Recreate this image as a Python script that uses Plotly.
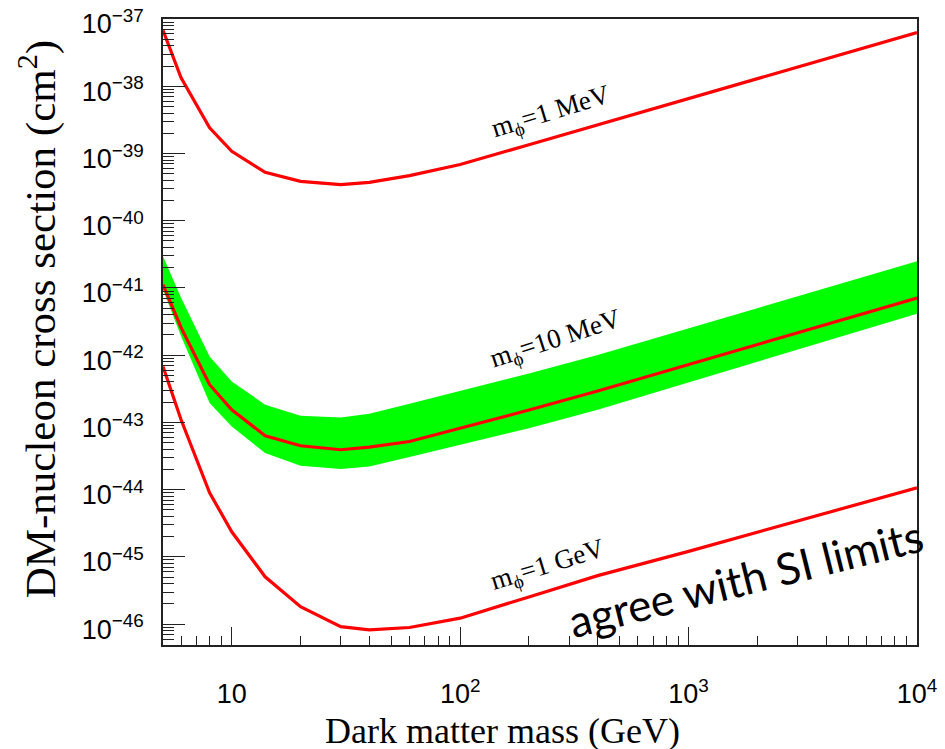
import plotly.graph_objects as go

# Dark matter mass (GeV)
mass = [5, 6, 8, 10, 14, 20, 30, 40, 60, 100, 200, 400, 1000, 10000]

# log10 of cross section (cm^2)
log_sigma_1MeV = [-37.167, -37.875, -38.619, -38.967, -39.280, -39.414, -39.463,
                  -39.429, -39.329, -39.165, -38.869, -38.574, -38.183, -37.201]
log_sigma_10MeV = [-40.951, -41.591, -42.439, -42.811, -43.198, -43.347, -43.406,
                   -43.366, -43.283, -43.086, -42.816, -42.533, -42.141, -41.149]
log_band_10MeV_hi = [-40.530, -41.144, -42.018, -42.390, -42.737, -42.900, -42.926,
                     -42.871, -42.723, -42.531, -42.272, -41.997, -41.601, -40.604]
log_band_10MeV_lo = [-41.025, -41.720, -42.711, -43.060, -43.455, -43.644, -43.693,
                     -43.655, -43.515, -43.332, -43.085, -42.813, -42.408, -41.382]
log_sigma_1GeV = [-42.167, -42.960, -44.046, -44.626, -45.296, -45.740, -46.036,
                  -46.085, -46.050, -45.911, -45.595, -45.278, -44.917, -43.972]

y_tick_exps = list(range(-46, -36))
x_tick_vals = [10, 100, 1000, 10000]
x_tick_text = ["10", "10<sup>2</sup>", "10<sup>3</sup>", "10<sup>4</sup>"]


def to_lin(vals):
    return [10 ** v for v in vals]


fig = go.Figure()
fig.add_trace(go.Scatter(x=mass, y=to_lin(log_band_10MeV_lo), mode="lines",
                         line=dict(width=0, color="#00ff00"), showlegend=False,
                         hoverinfo="skip"))
fig.add_trace(go.Scatter(x=mass, y=to_lin(log_band_10MeV_hi), mode="lines",
                         line=dict(width=0, color="#00ff00"), fill="tonexty",
                         fillcolor="#00ff00", showlegend=False, hoverinfo="skip"))
for ys in (log_sigma_1MeV, log_sigma_10MeV, log_sigma_1GeV):
    fig.add_trace(go.Scatter(x=mass, y=to_lin(ys), mode="lines",
                             line=dict(color="#ff0000", width=3.2), showlegend=False))

x_minor = [m * 10 ** e for e in range(0, 4) for m in range(2, 10) if m * 10 ** e >= 5]
y_minor = [m * 10.0 ** e for e in range(-47, -37) for m in range(2, 10)]

axis_common = dict(showgrid=False, zeroline=False, showline=True, linecolor="#222",
                   linewidth=1.5, mirror=True, ticks="inside", tickcolor="#222",
                   tickwidth=1.2, automargin=False,
                   tickfont=dict(family="Liberation Sans, Arial, sans-serif",
                                 size=27, color="black"))

fig.update_xaxes(type="log", range=[0.69897, 4], tickmode="array",
                 tickvals=x_tick_vals, ticktext=x_tick_text, ticklen=18,
                 minor=dict(tickmode="array", tickvals=x_minor, ticks="inside",
                            ticklen=9, tickcolor="#222", tickwidth=1.2),
                 ticklabelstandoff=24, **axis_common)
fig.update_yaxes(type="log", range=[-46.31, -37], tickmode="array",
                 tickvals=[10.0 ** e for e in y_tick_exps],
                 ticktext=["10<sup>\u2212%d</sup>" % (-e) for e in y_tick_exps],
                 ticklen=22,
                 minor=dict(tickmode="array", tickvals=y_minor, ticks="inside",
                            ticklen=11, tickcolor="#222", tickwidth=1.2),
                 ticklabelstandoff=12, ticklabelshift=5, **axis_common)

serif = "Liberation Serif, Times New Roman, serif"
annos = [
    dict(text="m<sub>\u03d5</sub>=1 MeV", x=0.5146, y=0.8505, textangle=-17, size=27, font=serif),
    dict(text="m<sub>\u03d5</sub>=10 MeV", x=0.5212, y=0.4876, textangle=-18, size=27, font=serif),
    dict(text="m<sub>\u03d5</sub>=1 GeV", x=0.5106, y=0.1263, textangle=-17, size=27, font=serif),
    dict(text="agree with SI limits", x=0.772, y=0.107, textangle=-14, size=44,
         font="Lato, Open Sans, sans-serif"),
    dict(text="DM-nucleon cross section (cm<sup>2</sup>)", x=-0.166, y=0.52,
         textangle=-90, size=43, font=serif),
    dict(text="Dark matter mass (GeV)", x=0.45, y=-0.137, textangle=0, size=36, font=serif),
]
for a in annos:
    fig.add_annotation(text=a["text"], x=a["x"], y=a["y"], xref="paper", yref="paper",
                       textangle=a["textangle"], showarrow=False,
                       xanchor="center", yanchor="middle",
                       font=dict(family=a["font"], size=a["size"], color="black"))

fig.update_layout(width=945, height=749, plot_bgcolor="white", paper_bgcolor="white",
                  margin=dict(l=163, r=28, t=19, b=104), showlegend=False)

fig.write_html("out.html", config={"displayModeBar": False},
               post_script="document.body.style.margin='0';"
                           "document.body.style.overflow='hidden';")
